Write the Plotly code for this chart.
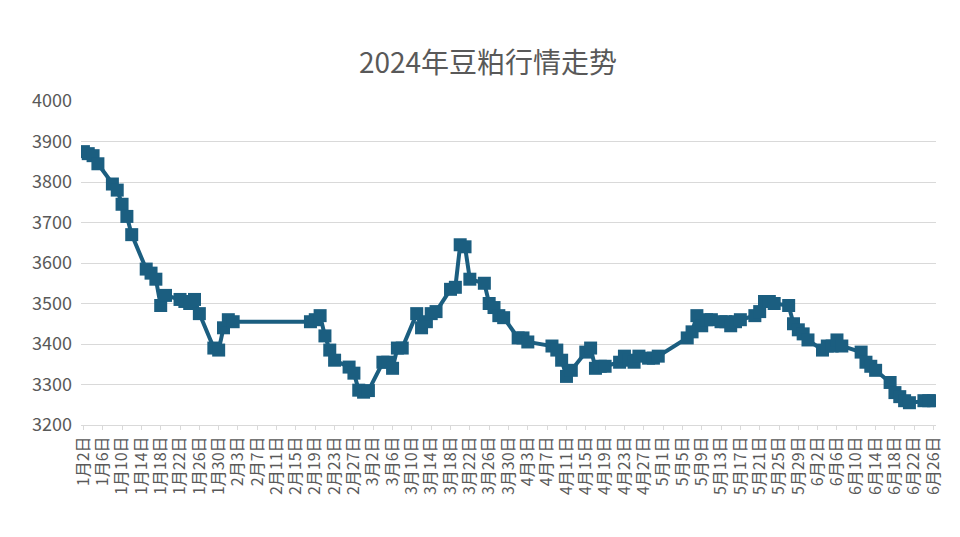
import plotly.graph_objects as go
import pandas as pd

dates = ["01-02","01-03","01-04","01-05","01-08","01-09","01-10","01-11","01-12",
 "01-15","01-16","01-17","01-18","01-19","01-22","01-23","01-24","01-25","01-26",
 "01-29","01-30","01-31","02-01","02-02","02-18","02-19","02-20","02-21","02-22","02-23",
 "02-26","02-27","02-28","02-29","03-01","03-04","03-05","03-06","03-07","03-08",
 "03-11","03-12","03-13","03-14","03-15","03-18","03-19","03-20","03-21","03-22",
 "03-25","03-26","03-27","03-28","03-29","04-01","04-02","04-03","04-08","04-09",
 "04-10","04-11","04-12","04-15","04-16","04-17","04-18","04-19","04-22","04-23",
 "04-24","04-25","04-26","04-28","04-29","04-30","05-06","05-07","05-08","05-09",
 "05-10","05-11","05-13","05-14","05-15","05-16","05-17","05-20","05-21","05-22",
 "05-23","05-24","05-27","05-28","05-29","05-30","05-31","06-03","06-04","06-05",
 "06-06","06-07","06-11","06-12","06-13","06-14","06-17","06-18","06-19","06-20",
 "06-21","06-24","06-25","06-26"]
values = [3875,3870,3865,3845,3795,3780,3745,3715,3670,
 3585,3575,3560,3495,3520,3510,3505,3500,3510,3475,
 3390,3385,3440,3460,3455,3455,3460,3470,3420,3385,3360,
 3343,3328,3286,3281,3285,3355,3355,3340,3390,3390,
 3475,3440,3455,3475,3480,3535,3540,3645,3640,3560,
 3550,3500,3490,3470,3465,3415,3415,3405,3395,3385,
 3360,3320,3335,3380,3390,3340,3345,3345,3355,3370,
 3360,3355,3370,3365,3365,3370,3415,3430,3470,3445,
 3460,3460,3455,3455,3445,3455,3460,3470,3480,3505,
 3505,3500,3495,3450,3435,3425,3410,3385,3395,3395,
 3410,3395,3380,3355,3345,3335,3305,3280,3270,3260,
 3255,3260,3260,3260]
x = pd.to_datetime(["2024-" + d for d in dates])

gray = "#595959"
fig = go.Figure(go.Scatter(
    x=x, y=values, mode="lines+markers",
    line=dict(color="#1B5E80", width=4),
    marker=dict(symbol="square", size=13, color="#1B5E80"),
))
fig.update_layout(
    width=960, height=537, paper_bgcolor="white", plot_bgcolor="white",
    margin=dict(l=73, r=32, t=93, b=120),
    title=dict(text="2024年豆粕行情走势", x=0.5, y=0.915, xanchor="center",
               font=dict(family="Noto Sans CJK SC", size=28, color=gray)),
    font=dict(family="Noto Sans CJK SC", color=gray),
    showlegend=False,
)
fig.update_yaxes(range=[3200, 4000], dtick=100, showgrid=True, gridcolor="#D9D9D9",
                 gridwidth=1, zeroline=False, tickfont=dict(size=18, color=gray),
                 ticks="", ticklabelstandoff=8)
fig.update_xaxes(type="date", range=["2024-01-01 12:00", "2024-06-26 12:00"],
                 tick0="2024-01-02", dtick=4*86400000, tickformat="%-m月%-d日",
                 tickangle=-90, showgrid=False, showline=True, linecolor="#D9D9D9",
                 ticks="outside", tickcolor="#D9D9D9", ticklen=4,
                 tickfont=dict(size=16, color=gray), automargin=False)
fig.write_html("out.html")
